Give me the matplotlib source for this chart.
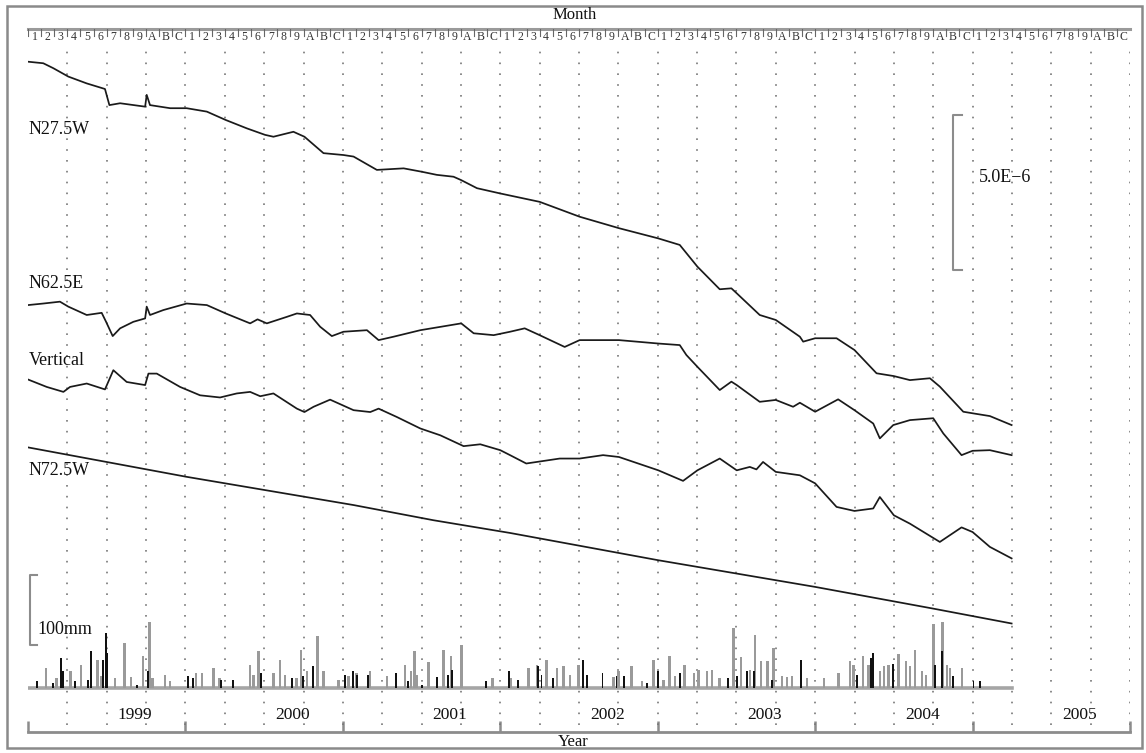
import numpy as np
import matplotlib
matplotlib.use("Agg")
import matplotlib.pyplot as plt
from matplotlib.patches import Rectangle

plt.rcParams['font.family'] = ['Liberation Serif', 'DejaVu Serif']

START = 1999
years = [1999, 2000, 2001, 2002, 2003, 2004, 2005]
month_labels = ['1', '2', '3', '4', '5', '6', '7', '8', '9', 'A', 'B', 'C']

# strain changes (units of 1e-6), time in years since Jan 1999
t27 = [0.000, 0.097, 0.161, 0.256, 0.373, 0.489, 0.517, 0.585, 0.744, 0.754,
       0.775, 0.903, 1.008, 1.136, 1.256, 1.390, 1.506, 1.559, 1.686, 1.756,
       1.877, 2.004, 2.068, 2.216, 2.386, 2.502, 2.597, 2.703, 2.752, 2.852,
       3.000, 3.250, 3.504, 3.754, 4.004, 4.140, 4.252, 4.394, 4.468, 4.502,
       4.648, 4.750, 4.903, 4.924, 5.000, 5.136, 5.250, 5.390, 5.500, 5.602,
       5.729, 5.792, 5.941, 6.000, 6.110, 6.248]
v27 = [0, -0.05, -0.21, -0.48, -0.70, -0.88, -1.40, -1.34, -1.45, -1.07,
       -1.40, -1.50, -1.50, -1.61, -1.88, -2.15, -2.36, -2.42, -2.26, -2.42,
       -2.95, -3.01, -3.06, -3.49, -3.44, -3.55, -3.65, -3.71, -3.82, -4.08,
       -4.25, -4.52, -5.00, -5.37, -5.70, -5.91, -6.61, -7.34, -7.31, -7.47,
       -8.17, -8.33, -8.87, -9.03, -8.92, -8.92, -9.30, -10.05, -10.14, -10.27,
       -10.21, -10.48, -11.29, -11.34, -11.43, -11.72]

t62 = [0.000, 0.097, 0.203, 0.256, 0.373, 0.468, 0.496, 0.538, 0.585, 0.669,
       0.744, 0.754, 0.775, 0.860, 1.008, 1.136, 1.256, 1.411, 1.458, 1.517,
       1.644, 1.708, 1.792, 1.856, 1.930, 2.004, 2.153, 2.227, 2.322, 2.492,
       2.752, 2.831, 2.958, 3.062, 3.155, 3.250, 3.409, 3.504, 3.754, 4.004,
       4.140, 4.182, 4.252, 4.394, 4.468, 4.502, 4.648, 4.750, 4.860, 4.903,
       5.000, 5.146, 5.250, 5.369, 5.411, 5.496, 5.602, 5.750, 5.814, 5.930,
       6.000, 6.110, 6.248]
v62 = [0, 0.05, 0.11, -0.05, -0.32, -0.25, -0.54, -1.00, -0.75, -0.54,
       -0.43, -0.05, -0.32, -0.16, 0.05, 0, -0.27, -0.59, -0.46, -0.59,
       -0.38, -0.27, -0.32, -0.70, -1.00, -0.86, -0.81, -1.13, -1.02, -0.81,
       -0.59, -0.91, -0.97, -0.86, -0.75, -0.97, -1.35, -1.13, -1.13, -1.24,
       -1.29, -1.61, -1.99, -2.74, -2.47, -2.58, -3.12, -3.06, -3.28, -3.15,
       -3.44, -3.04, -3.39, -3.82, -4.30, -3.87, -3.71, -3.65, -4.14, -4.84,
       -4.70, -4.68, -4.84]

tv = [0.000, 0.119, 0.225, 0.267, 0.373, 0.489, 0.542, 0.627, 0.744, 0.765,
      0.818, 0.966, 1.093, 1.220, 1.326, 1.411, 1.475, 1.559, 1.708, 1.756,
      1.814, 1.919, 2.068, 2.174, 2.227, 2.343, 2.492, 2.619, 2.767, 2.873,
      3.000, 3.062, 3.165, 3.377, 3.504, 3.653, 3.754, 4.004, 4.161, 4.252,
      4.394, 4.502, 4.585, 4.627, 4.669, 4.750, 4.903, 5.000, 5.136, 5.250,
      5.369, 5.411, 5.500, 5.602, 5.792, 5.930, 6.000, 6.110, 6.248]
vv = [0, -0.24, -0.40, -0.24, -0.13, -0.32, 0.30, -0.08, -0.18, 0.19,
      0.19, -0.24, -0.51, -0.58, -0.45, -0.40, -0.54, -0.45, -0.94, -1.05,
      -0.88, -0.65, -0.99, -1.05, -0.94, -1.21, -1.58, -1.80, -2.15, -2.09,
      -2.28, -2.44, -2.71, -2.55, -2.55, -2.44, -2.50, -2.93, -3.27, -2.93,
      -2.55, -2.93, -2.82, -2.90, -2.66, -2.98, -3.09, -3.35, -4.11, -4.24,
      -4.16, -3.79, -4.38, -4.65, -5.24, -4.77, -4.92, -5.40, -5.77]

t72 = [0.000, 1.008, 2.068, 2.576, 3.062, 4.004, 5.000, 5.750, 6.248]
v72 = [0, -0.95, -1.86, -2.35, -2.76, -3.64, -4.50, -5.20, -5.68]

# rainfall (mm), two gauges
gray_t = [0.114, 0.182, 0.271, 0.337, 0.440, 0.468, 0.553, 0.612, 0.654, 0.729,
          0.771, 0.792, 0.870, 0.902, 1.067, 1.104, 1.177, 1.216, 1.410, 1.432,
          1.463, 1.559, 1.601, 1.633, 1.707, 1.734, 1.771, 1.840, 1.876, 1.972,
          2.035, 2.088, 2.173, 2.279, 2.395, 2.433, 2.454, 2.469, 2.543, 2.639,
          2.687, 2.755, 2.952, 3.069, 3.179, 3.232, 3.295, 3.359, 3.401, 3.443,
          3.496, 3.719, 3.750, 3.835, 3.899, 3.973, 4.036, 4.074, 4.111, 4.170,
          4.231, 4.259, 4.312, 4.344, 4.392, 4.481, 4.530, 4.587, 4.619, 4.657,
          4.697, 4.735, 4.788, 4.820, 4.852, 4.947, 5.057, 5.148, 5.222, 5.244,
          5.303, 5.339, 5.413, 5.438, 5.466, 5.529, 5.578, 5.604, 5.635, 5.678,
          5.703, 5.752, 5.809, 5.837, 5.858, 5.932]
gray_mm = [28.6, 14.3, 23.8, 33.3, 40.5, 16.7, 14.3, 64.3, 15.7, 45.2,
           93.8, 14.3, 19, 9.5, 21.4, 21.4, 28.6, 14.3, 33.3, 19,
           52.4, 21.4, 40.5, 19, 14.3, 54.8, 23.8, 73.8, 23.8, 11.9,
           16.7, 21.4, 23.8, 16.7, 33.3, 23.8, 52.4, 19, 36.7, 54.8,
           45.2, 61.9, 14.3, 14.3, 28.6, 33.3, 40.5, 28.6, 31, 19,
           33.3, 15.7, 23.8, 31, 9.5, 40.5, 11.9, 45.2, 16.7, 33.3,
           21.4, 25, 23.8, 26.2, 14.3, 85.7, 44.3, 26.2, 76.2, 38.6,
           38.6, 57.1, 16.7, 15.7, 17.6, 14.3, 14.3, 21.4, 38, 33.3,
           45.2, 33.3, 23.8, 31, 33.3, 48.6, 38.6, 31, 54.8, 23.8,
           19, 91.4, 93.8, 33.3, 28.6, 28.6]
black_t = [0.055, 0.161, 0.208, 0.224, 0.299, 0.383, 0.400, 0.478, 0.496, 0.504,
           0.690, 0.764, 1.019, 1.050, 1.226, 1.305, 1.480, 1.675, 1.749, 1.813,
           2.014, 2.067, 2.088, 2.162, 2.338, 2.416, 2.501, 2.597, 2.670, 2.692,
           2.910, 3.058, 3.115, 3.240, 3.262, 3.337, 3.528, 3.550, 3.649, 3.738,
           3.788, 3.930, 4.004, 4.142, 4.449, 4.502, 4.566, 4.612, 4.725, 4.909,
           5.265, 5.354, 5.370, 5.492, 5.761, 5.803, 5.876, 6.006, 6.048]
black_mm = [9.5, 7.1, 42.9, 23.8, 9.5, 11.9, 52.4, 40.5, 78.6, 50,
            4.8, 23.8, 16.7, 14.3, 11.9, 11.9, 21.4, 14.3, 16.7, 31,
            19, 23.8, 19, 19, 21.4, 9.5, 4.8, 15.7, 19, 26.2,
            9.5, 23.8, 11.9, 31, 19, 14.3, 40.5, 19, 21.4, 16.7,
            16.7, 7.1, 23.8, 21.4, 14.3, 16.7, 23.8, 23.8, 11.9, 40.5,
            19, 42.9, 50, 34.3, 33.3, 52.4, 16.7, 9.5, 9.5]

W, H = 1146, 753
fig = plt.figure(figsize=(W / 100, H / 100), dpi=100)

def fx(px):
    return px / W

def fy(py):
    return (H - py) / H

# outer frame
fig.patches.append(Rectangle((fx(7), fy(748)), fx(1142) - fx(7), fy(6) - fy(748),
                             transform=fig.transFigure, fill=False,
                             edgecolor='#8a8a8a', lw=1.8))

grey = '#8c8c8c'
ink = '#111111'

# main panel
ax = fig.add_axes([fx(28), fy(732), fx(1130) - fx(28), fy(40) - fy(732)])
ax.set_xlim(1999, 2006)
ax.set_ylim(-22.32, 0)
for s in ['top', 'left', 'right']:
    ax.spines[s].set_visible(False)
ax.spines['bottom'].set_color(grey)
ax.spines['bottom'].set_linewidth(2)
ax.set_yticks([])
ax.set_xticks(np.arange(1999, 2007))
ax.tick_params(axis='x', direction='in', length=8, width=1.8, color=grey,
               labelbottom=False)

# quarterly dotted grid
for q in np.arange(1999.25, 2006.01, 0.25):
    ax.axvline(q, ymin=0.01, ymax=0.99, color='#777777', lw=1.2,
               ls=(0, (1, 5.5)))

# year labels
for y in years:
    ax.text(y + 0.68, 0.024, str(y), transform=ax.get_xaxis_transform(),
            ha='center', va='center', fontsize=12.5, color=ink)

# strain traces
offsets = {'N27.5W': -0.70, 'N62.5E': -8.55, 'Vertical': -10.95, 'N72.5W': -13.14}
traces = [('N27.5W', t27, v27), ('N62.5E', t62, v62),
          ('Vertical', tv, vv), ('N72.5W', t72, v72)]
label_y = {'N27.5W': -2.90, 'N62.5E': -7.84, 'Vertical': -10.35, 'N72.5W': -13.87}
for name, t, v in traces:
    ax.plot(np.array(t) + START, np.array(v) + offsets[name], color='#1a1a1a',
            lw=1.25)
    ax.text(START + 0.003, label_y[name], name, ha='left', va='center',
            fontsize=13, color=ink)

# 5.0E-6 scale bar
sx = 2004.877
ax.plot([sx + 0.055, sx, sx, sx + 0.055], [-2.42, -2.42, -7.42, -7.42],
        color=grey, lw=1.5)
ax.text(2005.04, -4.42, '5.0E\u22126', ha='left', va='center', fontsize=13,
        color=ink)

# rainfall panel (shares the main panel's box)
rax = fig.add_axes(ax.get_position(), frameon=False)
rax.set_xlim(1999, 2006)
rax.set_ylim(-62.9, 925.7)
rax.set_xticks([])
rax.set_yticks([])
rax.bar(np.array(gray_t) + START, gray_mm, width=0.016, color='#9a9a9a',
        linewidth=0, align='center')
rax.bar(np.array(black_t) + START, black_mm, width=0.012, color='#111111',
        linewidth=0, align='center')
rax.plot([1999, 2005.25], [0, 0], color='#a5a5a5', lw=2.6, zorder=0.5)
rax.plot([1999.055, 1999.013, 1999.013, 1999.055], [161, 161, 61, 61],
         color=grey, lw=1.5)
rax.text(1999.062, 83, '100mm', ha='left', va='center', fontsize=13, color=ink)

# month strip
max_ = fig.add_axes([fx(28), fy(41), fx(1130) - fx(28), fy(29) - fy(41)],
                    frameon=False)
max_.set_xlim(1999, 2006)
max_.set_ylim(0, 1)
max_.set_xticks([])
max_.set_yticks([])
max_.plot([1999, 2006], [1, 1], color='#9a9a9a', lw=2.2, clip_on=False)
for y in years:
    for m, lab in enumerate(month_labels):
        x0 = y + m / 12
        max_.plot([x0, x0], [1, 0.45], color='#666666', lw=0.8)
        max_.text(x0 + 1 / 24, 0.35, lab, ha='center', va='center',
                  fontsize=8.5, color='#333333')

fig.text(fx(575), fy(15), 'Month', ha='center', va='center', fontsize=12,
         color=ink)
fig.text(fx(573), fy(742), 'Year', ha='center', va='center', fontsize=12,
         color=ink)

fig.savefig('out.png', dpi=100)
